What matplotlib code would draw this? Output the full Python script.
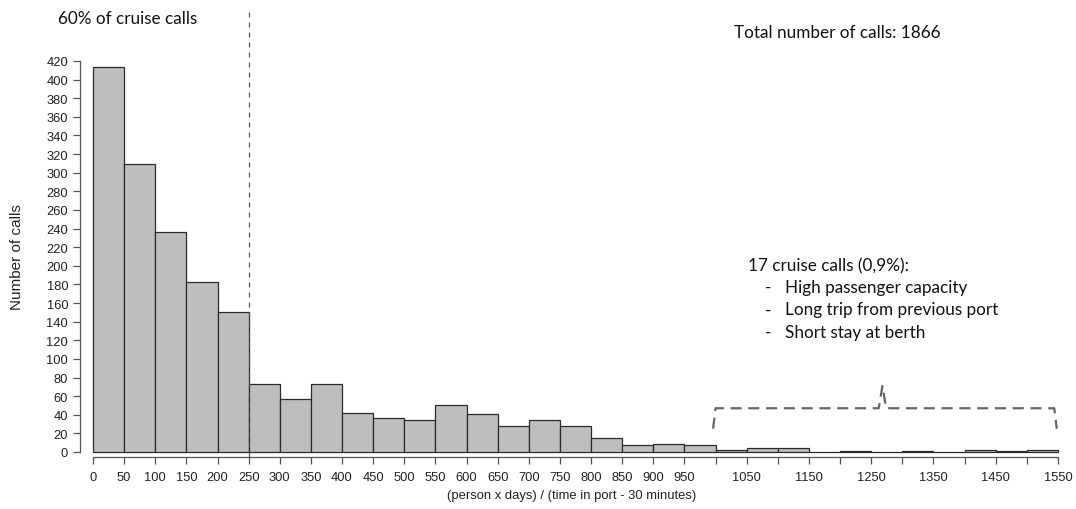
import matplotlib
matplotlib.use('Agg')
import matplotlib.pyplot as plt
import numpy as np

# histogram bins (width 50) and counts
bin_edges = list(range(0, 1551, 50))
counts = [414, 309, 236, 183, 150, 73, 57, 73, 42, 37, 34, 50, 41, 28, 34, 28,
          15, 8, 9, 8, 2, 4, 4, 0, 1, 0, 1, 0, 2, 1, 2]
tick_pos = list(range(0, 1551, 50))
tick_labels = [str(v) if (v <= 950 or (v - 1050) % 100 == 0) else '' for v in tick_pos]
y_ticks = list(range(0, 421, 20))

# outlier bracket (x, y in data units)
brace_x = [996, 1000, 1262, 1268, 1274, 1544, 1548]
brace_y = [25, 47, 47, 71, 47, 47, 25]

W, H = 1076, 510
fig = plt.figure(figsize=(W / 100, H / 100), dpi=100)
# axes in pixel coordinates
L, R, B, T = 80, 1065, 458, 10
ax = fig.add_axes([L / W, 1 - B / H, (R - L) / W, (B - T) / H])

px_per_x = (1058 - 93) / 1550
px_per_y = (453 - 62) / 420
ax.set_xlim((L - 93) / px_per_x, (R - 93) / px_per_x)
ax.set_ylim(-(B - 453) / px_per_y, (453 - T) / px_per_y)

lefts = np.array(bin_edges[:-1])
ax.bar(lefts, counts, width=50, align='edge', color='#bebebe',
       edgecolor='#2b2b2b', linewidth=0.9)

ax.axvline(250, ymin=0, ymax=1, color='#555555', linestyle=(0, (4, 4)), linewidth=0.9)
ax.plot(brace_x, brace_y, color='#666666', linestyle=(0, (5, 3)), linewidth=1.6)

for s in ['top', 'right']:
    ax.spines[s].set_visible(False)
ax.spines['left'].set_bounds(0, 420)
ax.spines['bottom'].set_bounds(0, 1550)
for s in ['left', 'bottom']:
    ax.spines[s].set_color('#555555')
    ax.spines[s].set_linewidth(0.9)

ax.set_xticks(tick_pos)
ax.set_xticklabels(tick_labels)
ax.set_yticks(y_ticks)
ax.tick_params(axis='both', direction='out', length=5, width=0.9, color='#555555',
               labelsize=9.3, labelcolor='#222222')
ax.tick_params(axis='x', pad=5)
for lab in ax.get_xticklabels() + ax.get_yticklabels():
    lab.set_family('Liberation Sans')

fig.text(572 / W, 1 - 496 / H, '(person x days) / (time in port - 30 minutes)',
         family='Liberation Sans', fontsize=9.4, color='#222222', ha='center', va='center')
fig.text(17 / W, 1 - 257 / H, 'Number of calls', family='Liberation Sans', fontsize=11,
         color='#222222', ha='center', va='center', rotation=90)

note_font = dict(family='Lato', fontsize=12.3, color='#111111')
fig.text(58 / W, 1 - 19 / H, '60% of cruise calls', va='center', ha='left', **note_font)
fig.text(734 / W, 1 - 33 / H, 'Total number of calls: 1866', va='center', ha='left', **note_font)
fig.text(748 / W, 1 - 266 / H, '17 cruise calls (0,9%):', va='center', ha='left', **note_font)
items = ['High passenger capacity', 'Long trip from previous port', 'Short stay at berth']
for i, item in enumerate(items):
    y = 288 + i * 22.5
    fig.text(765 / W, 1 - y / H, '-', va='center', ha='left', **note_font)
    fig.text(785 / W, 1 - y / H, item, va='center', ha='left', **note_font)

fig.savefig('out.png', dpi=100)
